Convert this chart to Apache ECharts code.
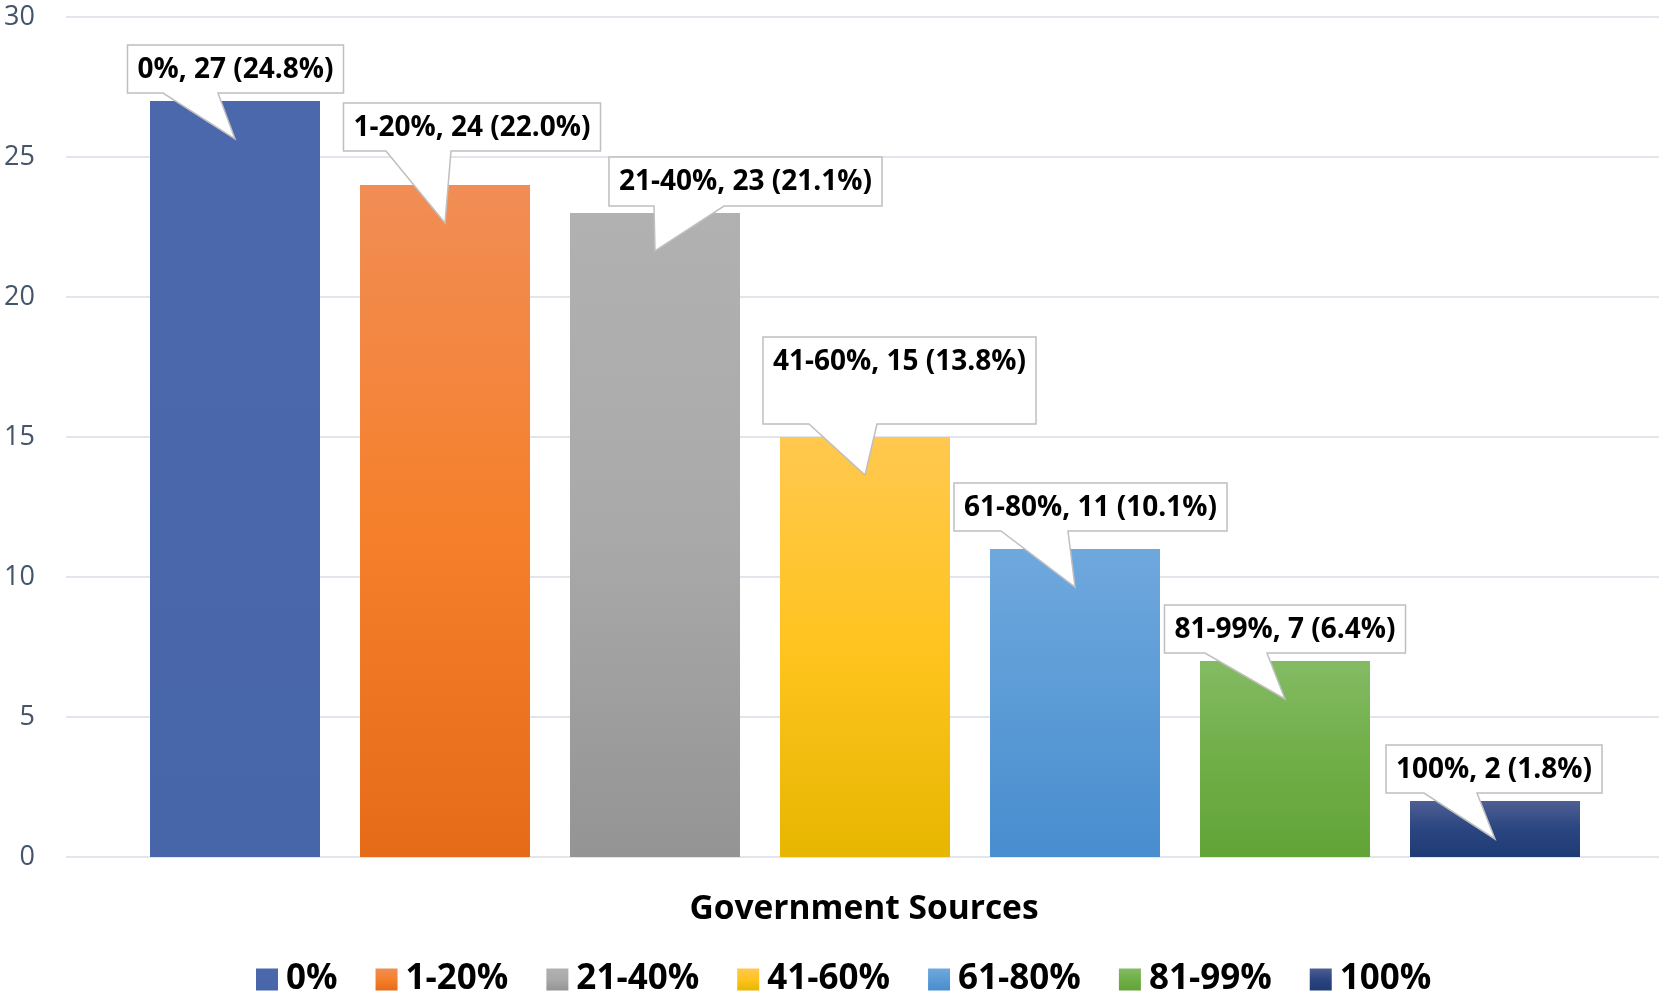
<!DOCTYPE html>
<html>
<head>
<meta charset="utf-8">
<script src="https://cdn.jsdelivr.net/npm/echarts@6/dist/echarts.min.js"></script>
<style>
html,body{margin:0;padding:0;background:#fff;}
#chart{width:1659px;height:998px;}
</style>
</head>
<body>
<div id="chart"></div>
<script>
// ---- data ----
const categories = ['0%', '1-20%', '21-40%', '41-60%', '61-80%', '81-99%', '100%'];
const counts = [27, 24, 23, 15, 11, 7, 2];
const axisTitle = 'Government Sources';
const yMin = 0, yMax = 30, yStep = 5;

// ---- styles ----
const gradientStops = [
  ['#4a68ab', '#4967aa', '#4765a9'],
  ['#f18d55', '#f5802c', '#e66b18'],
  ['#b1b1b1', '#a9a9a9', '#949494'],
  ['#ffc84f', '#ffc41f', '#e7b600'],
  ['#6fa8dd', '#5b9bd6', '#488dcf'],
  ['#83bb63', '#70ae47', '#62a438'],
  ['#4e5f93', '#2a4580', '#1f3b74']
];
// callout placement relative to bar top centre: [dx, boxBottom, boxHeight, baseLeft, baseRight]
const calloutLayout = [
  [0.5, -8, 48, -72, -17],
  [27, -34, 48, -59, 6],
  [90.5, -7, 49, -1, 69],
  [34.5, -13, 87, -56, 12],
  [15.5, -18, 48, -74, -7],
  [0, -8, 48, -80, -18],
  [-1, -8, 48, -71, -18]
];
const FONT = '"Open Sans", "Noto Sans", sans-serif';
const calloutFont = 'bold 28px ' + FONT;

const total = counts.reduce((a, b) => a + b, 0);
function labelText(i) {
  return categories[i] + ', ' + counts[i] + ' (' + (counts[i] / total * 100).toFixed(1) + '%)';
}
const mctx = document.createElement('canvas').getContext('2d');
function measure(t) { mctx.font = calloutFont; return mctx.measureText(t).width; }

function grad(i) {
  const s = gradientStops[i];
  return new echarts.graphic.LinearGradient(0, 0, 0, 1, [
    { offset: 0, color: s[0] }, { offset: 0.5, color: s[1] }, { offset: 1, color: s[2] }
  ]);
}

const barSeries = categories.map((c, i) => ({
  name: c,
  type: 'bar',
  xAxisIndex: 1,
  yAxisIndex: 1,
  stack: 'all',
  barWidth: 170,
  itemStyle: { color: grad(i) },
  emphasis: { disabled: true },
  data: categories.map((cc, j) => (j === i ? counts[i] : '-'))
}));

const calloutSeries = {
  type: 'custom',
  xAxisIndex: 1,
  yAxisIndex: 1,
  z: 10,
  clip: false,
  silent: true,
  data: categories.map((c, i) => [i, counts[i]]),
  renderItem: function (params, api) {
    const i = params.dataIndex;
    const p = api.coord([api.value(0), api.value(1)]);
    const cx = p[0], ty = p[1];
    const L = calloutLayout[i];
    const text = labelText(i);
    const w = measure(text) + 20;
    const left = cx + L[0] - w / 2, right = left + w;
    const bottom = ty + L[1], top = bottom - L[2];
    const tipY = ty + 38;
    const pts = [[left, top], [right, top], [right, bottom], [cx + L[4], bottom], [cx, tipY], [cx + L[3], bottom], [left, bottom]];
    return {
      type: 'group',
      children: [
        { type: 'polygon', shape: { points: pts }, style: { fill: '#ffffff', stroke: '#bfbfbf', lineWidth: 1.5 } },
        { type: 'text', style: { text: text, x: left + w / 2, y: top + 25, align: 'center', verticalAlign: 'middle', font: calloutFont, fill: '#000000' } }
      ]
    };
  }
};

const chart = echarts.init(document.getElementById('chart'), null, { renderer: 'canvas' });
chart.setOption({
  animation: false,
  backgroundColor: '#ffffff',
  title: {
    text: axisTitle,
    left: 864,
    textAlign: 'center',
    top: 892,
    padding: 0,
    textStyle: { fontSize: 33.5, fontWeight: 'bold', color: '#000000', fontFamily: FONT }
  },
  legend: {
    data: categories,
    left: 256,
    top: 962,
    padding: 0,
    icon: 'rect',
    itemWidth: 22,
    itemHeight: 22,
    itemGap: 38,
    selectedMode: false,
    textStyle: { fontSize: 35, fontWeight: 'bold', color: '#000000', fontFamily: FONT, padding: [0, 0, 0, 3] }
  },
  grid: [
    { left: 66, right: 0, top: 17, bottom: 141 },
    { left: 130, right: 59, top: 17, bottom: 141 }
  ],
  xAxis: [
    { gridIndex: 0, type: 'value', min: 0, max: 1, show: false },
    { gridIndex: 1, type: 'category', data: categories, axisLine: { show: false }, axisTick: { show: false }, axisLabel: { show: false }, splitLine: { show: false } }
  ],
  yAxis: [
    {
      gridIndex: 0, type: 'value', min: yMin, max: yMax, interval: yStep,
      axisLine: { show: false }, axisTick: { show: false },
      axisLabel: { fontSize: 27, color: '#44546a', margin: 31, fontFamily: FONT },
      splitLine: { lineStyle: { color: '#d9dee6', width: 1.5 } }
    },
    { gridIndex: 1, type: 'value', min: yMin, max: yMax, interval: yStep, show: false, splitLine: { show: false } }
  ],
  series: barSeries.concat([calloutSeries])
});
</script>
</body>
</html>
